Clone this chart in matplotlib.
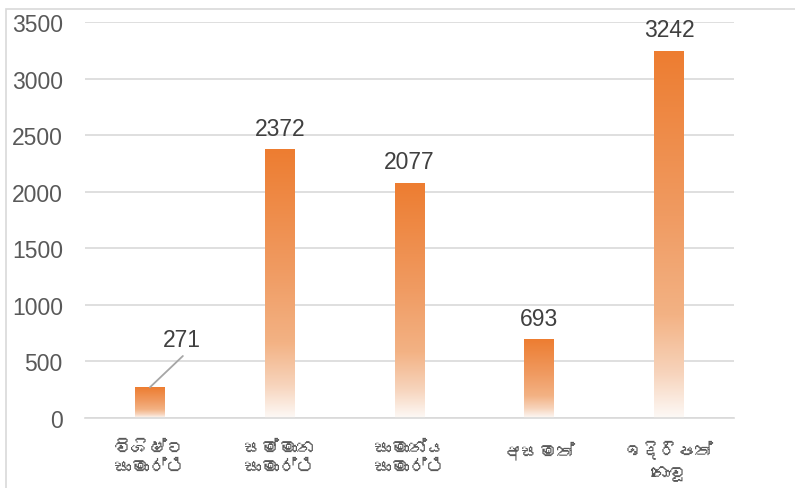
import numpy as np
import matplotlib
matplotlib.use("Agg")
import matplotlib.pyplot as plt
from matplotlib import font_manager
from matplotlib.colors import LinearSegmentedColormap
from matplotlib.patches import Rectangle

categories = ["විශිෂ්ට\nසාමාර්ථ", "සම්මාන\nසාමාර්ථ", "සාමාන්ය\nසාමාර්ථ", "අසමත්", "ඉදිරිපත්\nනොවූ"]
values = [271, 2372, 2077, 693, 3242]
yticks = [0, 500, 1000, 1500, 2000, 2500, 3000, 3500]

# find a font with Sinhala glyphs if any
sinhala_family = None
try:
    from matplotlib.ft2font import FT2Font
    for fe in font_manager.fontManager.ttflist:
        try:
            f = FT2Font(fe.fname)
            if 0x0DC3 in f.get_charmap():
                sinhala_family = fe.name
                break
        except Exception:
            pass
except Exception:
    pass
lab_family = [sinhala_family, "DejaVu Sans"] if sinhala_family else ["DejaVu Sans"]

plt.rcParams['font.family'] = ['Liberation Sans', 'DejaVu Sans']

fig = plt.figure(figsize=(7.95, 4.89), dpi=100)
ax = fig.add_axes([85/795, 1-419/489, 649/795, (419-23)/489])

# figure frame
fig.patches.append(Rectangle((6/795, -0.1), 1.2, 1-10/489+0.1, transform=fig.transFigure,
                             fill=False, edgecolor="#D9D9D9", linewidth=1.2))

cmap = LinearSegmentedColormap.from_list("g", [
    (0.0, (253/255, 249/255, 246/255)),
    (0.12, (247/255, 212/255, 188/255)),
    (0.28, (243/255, 178/255, 132/255)),
    (0.55, (240/255, 155/255, 98/255)),
    (1.0, (237/255, 125/255, 49/255)),
])
grad = np.linspace(0, 1, 256).reshape(-1, 1)
w = 0.23
x = np.arange(len(categories))
bars = ax.bar(x, values, width=w, color="none", edgecolor="none")
for xi, v in zip(x, values):
    ax.imshow(grad, extent=[xi - w/2, xi + w/2, 0, v], origin="lower", aspect="auto",
              cmap=cmap, zorder=2, interpolation="bilinear")

ax.set_xlim(-0.5, len(categories) - 0.5)
ax.set_ylim(0, 3500)
ax.set_yticks(yticks)
ax.set_yticklabels([str(t) for t in yticks], fontsize=16.5, color="#595959")
ax.tick_params(axis='y', length=0, pad=16)
ax.set_xticks(x)
ax.set_xticklabels(categories, fontsize=13, color="#595959", family=lab_family, linespacing=1.45)
ax.tick_params(axis='x', length=0, pad=16)
ax.grid(axis='y', color="#D9D9D9", linewidth=1.2, zorder=0)
ax.set_axisbelow(True)
for s in ["top", "right", "left"]:
    ax.spines[s].set_visible(False)
ax.spines["bottom"].set_color("#D9D9D9")
ax.spines["bottom"].set_linewidth(1.2)

for i, (xi, v) in enumerate(zip(x, values)):
    if i == 0:
        ax.annotate("", xy=(xi, v), xytext=(xi + 0.254, 548),
                    arrowprops=dict(arrowstyle="-", color="#A6A6A6", lw=1.3, shrinkA=0, shrinkB=0))
        ax.text(xi + 0.247, 636, str(v), ha="center", va="baseline", fontsize=16.5, color="#404040")
    else:
        ax.text(xi, v + 133, str(v), ha="center", va="baseline", fontsize=16.5, color="#404040")

fig.savefig("out.png", dpi=100)
